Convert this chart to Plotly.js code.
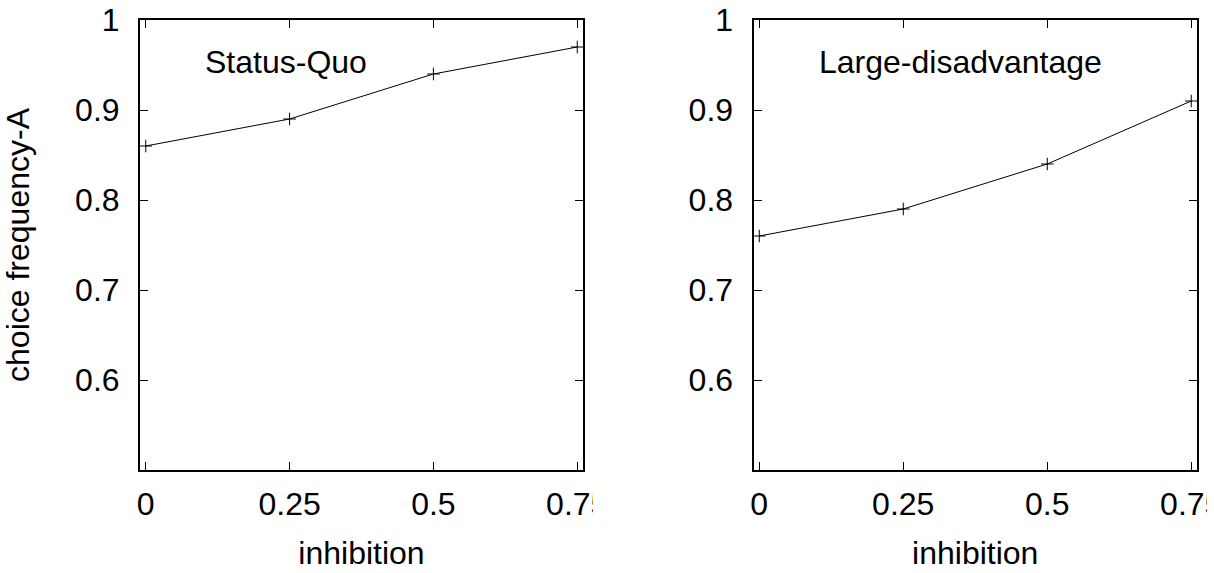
<!DOCTYPE html>
<html>
<head>
<meta charset="utf-8">
<script src="https://cdn.plot.ly/plotly-3.0.1.min.js"></script>
<style>
html,body{margin:0;padding:0;background:#fff;}
#chart{width:1214px;height:573px;}
</style>
</head>
<body>
<div id="chart"></div>
<script>
// Data
var inhibition = [0, 0.25, 0.5, 0.75];
var statusQuo = [0.86, 0.89, 0.94, 0.97];
var largeDisadvantage = [0.76, 0.79, 0.84, 0.91];
var panelLabels = ["Status-Quo", "Large-disadvantage"];
var xTickVals = [0, 0.25, 0.5, 0.75];
var xTickText = ["0", "0.25", "0.5", "0.75"];
var yTickVals = [0.6, 0.7, 0.8, 0.9, 1];
var yTickText = ["0.6", "0.7", "0.8", "0.9", "1"];
var xTitle = "inhibition";
var yTitle = "choice frequency-A";

var W = 1214, H = 573;
var FONT = "Liberation Sans, Arial, Helvetica, sans-serif";

var lineStyle = {color: "#000", width: 1};
var markerStyle = {symbol: "cross-thin-open", size: 9, color: "#000", line: {color: "#000", width: 1}};

var traces = [
  {x: inhibition, y: statusQuo, xaxis: "x", yaxis: "y", mode: "lines+markers",
   line: lineStyle, marker: markerStyle, showlegend: false, hoverinfo: "x+y"},
  {x: inhibition, y: largeDisadvantage, xaxis: "x2", yaxis: "y2", mode: "lines+markers",
   line: lineStyle, marker: markerStyle, showlegend: false, hoverinfo: "x+y"}
];

function xax(dom, withTitle) {
  return {
    domain: dom, range: [-0.01, 0.76],
    tickvals: xTickVals, ticktext: xTickText,
    ticks: "inside", ticklen: 8, tickwidth: 1, tickcolor: "#000",
    ticklabelstandoff: 5, ticklabeloverflow: "allow",
    showline: true, linecolor: "#000", linewidth: 2, mirror: "allticks",
    showgrid: false, zeroline: false, automargin: "height",
    tickfont: {family: FONT, size: 32, color: "#000"},
    title: {text: withTitle ? xTitle : "", standoff: 20, font: {family: FONT, size: 32, color: "#000"}}
  };
}
function yax(dom, withTitle) {
  return {
    domain: dom, range: [0.5, 1],
    tickvals: yTickVals, ticktext: yTickText,
    ticks: "inside", ticklen: 8, tickwidth: 1, tickcolor: "#000",
    ticklabelstandoff: 12,
    showline: true, linecolor: "#000", linewidth: 2, mirror: "allticks",
    showgrid: false, zeroline: false, automargin: "width",
    tickfont: {family: FONT, size: 32, color: "#000"},
    title: {text: withTitle ? yTitle : "", standoff: 36, font: {family: FONT, size: 32, color: "#000"}}
  };
}

var yDom = [1 - 470 / H, 1 - 20 / H];
var x1 = xax([140 / W, 583 / W], true); x1.anchor = "y";
var x2 = xax([753.5 / W, 1197 / W], true); x2.anchor = "y2";
var y1 = yax(yDom, true); y1.anchor = "x";
var y2 = yax(yDom, false); y2.anchor = "x2";

var layout = {
  width: W, height: H,
  margin: {l: 0, r: 0, t: 0, b: 0},
  paper_bgcolor: "#fff", plot_bgcolor: "#fff",
  font: {family: FONT, size: 32, color: "#000"},
  xaxis: x1, yaxis: y1, xaxis2: x2, yaxis2: y2,
  annotations: [
    {xref: "x", yref: "y", x: 0.1, y: 0.95, text: panelLabels[0], showarrow: false,
     xanchor: "left", yanchor: "middle", yshift: 3, font: {family: FONT, size: 32, color: "#000"}},
    {xref: "x2", yref: "y2", x: 0.1, y: 0.95, text: panelLabels[1], showarrow: false,
     xanchor: "left", yanchor: "middle", yshift: 3, font: {family: FONT, size: 32, color: "#000"}}
  ],
  shapes: [
    // emulate clipping of the last x tick label at the panel edge
    {type: "rect", xref: "paper", yref: "paper", layer: "above",
     x0: 593 / W, x1: 640 / W, y0: 1 - 540 / H, y1: 1 - 480 / H,
     fillcolor: "#fff", line: {width: 0}},
    {type: "rect", xref: "paper", yref: "paper", layer: "above",
     x0: 1207 / W, x1: 1, y0: 1 - 540 / H, y1: 1 - 480 / H,
     fillcolor: "#fff", line: {width: 0}}
  ]
};

Plotly.newPlot("chart", traces, layout, {staticPlot: true, displayModeBar: false});
</script>
</body>
</html>
